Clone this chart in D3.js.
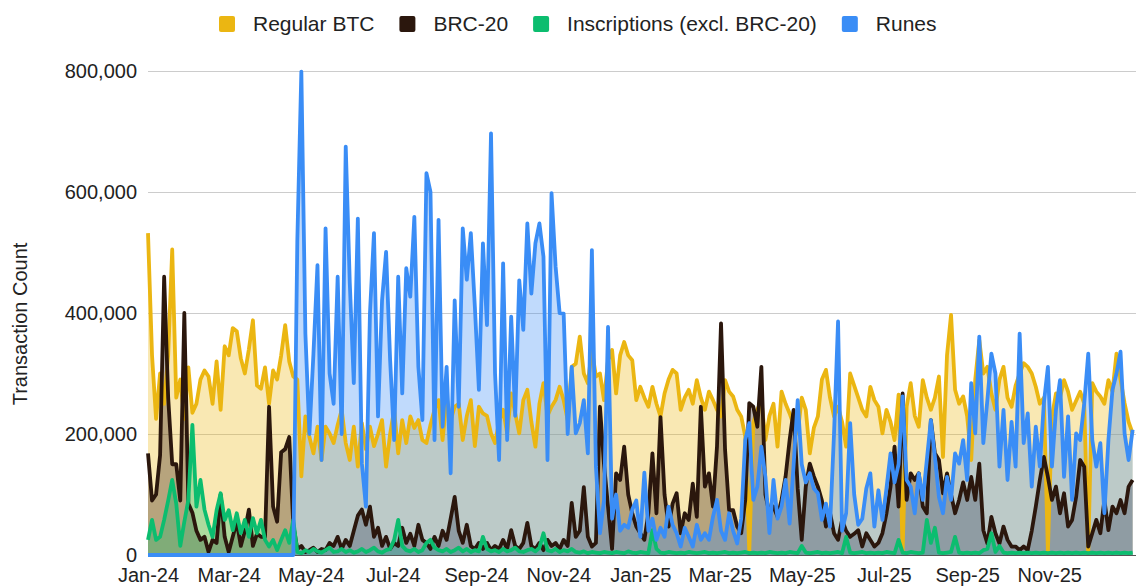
<!DOCTYPE html>
<html lang="en">
<head>
<meta charset="UTF-8">
<script src="https://d3js.org/d3.v7.min.js"></script>
<title>Bitcoin transactions by type</title>
<style>
  body { margin: 0; background: #fff; font-family: "Liberation Sans", Arial, sans-serif; }
  svg text { fill: #222; }
</style>
</head>
<body>
<svg id="chart" width="1136" height="586"></svg>
<script>
// one point every 3 days, starting 1 Jan 2024; values in thousands of transactions
const startDate = new Date(Date.UTC(2024, 0, 1));
const stepDays = 3;

const seriesNames = ["Regular BTC", "BRC-20", "Inscriptions (excl. BRC-20)", "Runes"];
const seriesColors = ["#ebb612", "#2b170d", "#0cbd6f", "#3a8df6"];

const regularBtc = [
  532,330,225,300,250,330,505,260,290,225,310,235,250,290,305,295,250,320,240,345,
  330,375,370,325,300,340,388,280,275,310,250,305,290,330,380,320,295,
  290,130,229,195,168,212,157,212,201,185,215,240,185,157,212,146,218,175,212,180,
  200,223,146,200,240,168,223,185,229,210,223,190,185,215,240,256,190,262,223,245,
  250,190,230,256,180,245,
  234,230,201,185,220,240,201,267,234,201,256,273,220,179,250,284,230,245,256,278,
  256,223,311,316,361,300,284,339,295,300,256,322,339,267,330,352,330,322,256,278,
  260,245,278,250,229,267,290,306,300,240,260,273,250,289,260,240,270,256,240,229,
  289,270,262,240,229,196,5,218,240,256,190,230,250,179,
  270,250,234,215,201,260,240,168,210,229,290,306,260,229,245,220,179,300,280,260,
  240,229,278,256,245,201,240,220,190,265,5,245,284,230,212,289,260,240,260,295,
  162,330,397,273,250,262,229,157,
  290,355,300,311,267,240,290,311,260,245,280,300,317,311,300,278,250,260,5,229,
  267,260,289,270,240,255,270,250,5,284,270,262,250,289,270,333,290,251,220,201
];

const brc20 = [
  168,90,100,165,460,260,150,150,90,400,85,70,40,25,30,5,25,20,100,30,
  5,30,55,15,40,75,15,35,30,30,245,80,55,170,175,195,50,
  10,15,5,8,12,5,10,8,20,15,30,10,25,15,40,65,75,50,80,30,
  45,15,30,10,20,15,45,20,35,15,50,25,20,10,30,15,40,25,60,96,
  40,20,50,15,10,20,
  10,20,8,15,10,25,10,41,15,10,20,53,15,10,20,8,25,15,20,10,
  25,15,86,30,
  40,112,30,14,20,245,150,80,10,135,124,179,100,69,47,36,25,69,168,69,
  228,100,47,85,102,36,69,58,118,63,245,113,135,80,179,383,174,74,74,47,
  36,91,251,245,212,311,100,69,80,63,
  91,130,190,240,110,25,113,151,130,113,90,47,70,36,25,58,40,30,35,41,
  14,36,25,14,20,36,69,113,179,80,267,91,135,124,135,80,69,223,168,157,
  102,135,100,69,91,120,91,129,
  91,151,41,19,63,36,19,47,25,14,14,8,14,8,40,80,124,162,129,91,
  113,69,102,47,58,96,157,146,14,36,58,36,91,41,80,69,91,69,113,124
];

const inscriptions = [
  25,58,25,30,58,90,124,85,15,55,91,215,80,124,75,50,30,74,102,58,
  74,41,69,36,58,30,61,36,58,25,14,25,8,25,41,20,58,
  5,3,8,5,10,6,4,8,12,5,6,10,5,8,4,6,10,5,8,12,
  6,4,8,10,25,58,15,8,6,10,5,8,20,25,12,8,6,10,5,8,
  12,6,10,5,8,6,
  30,10,6,8,5,10,6,8,12,6,5,8,10,6,12,36,8,6,10,5,
  8,6,10,5,4,6,3,5,4,3,5,4,3,5,4,3,6,4,3,5,
  4,3,41,10,4,3,5,4,3,4,3,5,4,3,4,5,3,4,3,4,
  5,3,4,3,4,5,3,4,3,4,3,5,4,3,
  4,3,5,4,3,15,4,3,4,5,3,4,3,4,5,3,30,4,3,4,
  5,3,4,3,4,3,5,4,3,25,4,3,5,4,3,4,58,20,45,4,
  3,4,5,30,4,3,4,3,
  4,3,8,10,36,5,15,4,3,4,3,4,3,4,3,4,3,4,3,4,
  3,4,3,4,3,4,3,4,3,4,3,4,3,4,3,4,3,4,3,4
];

const runes = [
  0,0,0,0,0,0,0,0,0,0,0,0,0,0,0,0,0,0,0,0,
  0,0,0,0,0,0,0,0,0,0,0,0,0,0,0,0,0,
  518,799,366,200,333,479,157,540,300,250,460,200,675,450,284,556,151,80,399,532,
  229,421,501,322,190,460,267,474,427,559,311,223,631,600,190,554,212,311,135,421,
  245,540,455,532,410,273,
  515,380,697,300,157,482,190,394,230,454,372,548,432,515,548,493,157,598,477,400,
  399,200,311,201,218,256,168,504,146,36,90,377,60,100,40,50,45,75,90,30,
  136,40,60,25,45,30,80,50,36,14,45,30,14,50,25,36,25,63,91,40,
  25,69,40,19,60,190,218,91,113,179,129,36,124,60,
  80,124,52,150,256,150,120,135,110,102,58,85,47,200,386,40,69,218,100,50,
  60,110,135,47,107,58,110,168,120,150,262,124,113,69,135,91,157,223,162,96,
  69,129,91,168,151,190,124,284,
  201,361,185,256,333,300,146,240,124,220,146,366,185,234,113,212,146,251,311,146,
  240,289,129,229,91,201,190,250,333,190,146,185,69,190,273,300,336,201,157,207
];

const yTicks = [0, 200000, 400000, 600000, 800000];
const xTicks = d3.utcMonth.every(2).range(startDate, new Date(Date.UTC(2025, 11, 1)));

const allSeries = [regularBtc, brc20, inscriptions, runes].map((vals, k) => ({
  name: seriesNames[k],
  color: seriesColors[k],
  points: vals.map((v, i) => ({ date: d3.utcDay.offset(startDate, i * stepDays), value: v * 1000 }))
}));

const svg = d3.select("#chart");
const plot = { left: 148, right: 1136, top: 71, bottom: 555 };

const x = d3.scaleUtc()
  .domain([startDate, new Date(Date.UTC(2026, 0, 4, 12))])
  .range([plot.left, plot.right]);
const y = d3.scaleLinear().domain([0, 800000]).range([plot.bottom, plot.top]);

// gridlines
svg.append("g")
  .selectAll("line")
  .data(yTicks)
  .join("line")
  .attr("x1", plot.left).attr("x2", plot.right)
  .attr("y1", d => y(d)).attr("y2", d => y(d))
  .attr("stroke", d => d === 0 ? "#555" : "#cccccc")
  .attr("stroke-width", 1)
  .attr("shape-rendering", "crispEdges");

// y axis labels
const yAxis = svg.append("g")
  .attr("transform", `translate(${plot.left - 11},0)`)
  .call(d3.axisLeft(y).tickValues(yTicks).tickFormat(d3.format(",")).tickSize(0).tickPadding(0));
yAxis.select(".domain").remove();
yAxis.selectAll("text").attr("font-size", 20).attr("font-family", "Liberation Sans, Arial, sans-serif").attr("fill", "#222");

svg.append("text")
  .attr("transform", "translate(27,324) rotate(-90)")
  .attr("text-anchor", "middle")
  .attr("font-size", 20)
  .text("Transaction Count");

// areas first, then lines on top
const area = d3.area()
  .x(d => x(d.date))
  .y0(y(0))
  .y1(d => y(d.value));
const line = d3.line()
  .x(d => x(d.date))
  .y(d => y(d.value));

svg.append("g")
  .selectAll("path")
  .data(allSeries)
  .join("path")
  .attr("d", d => area(d.points))
  .attr("fill", d => d.color)
  .attr("fill-opacity", 0.32);

svg.append("g")
  .selectAll("path")
  .data(allSeries)
  .join("path")
  .attr("d", d => line(d.points))
  .attr("fill", "none")
  .attr("stroke", d => d.color)
  .attr("stroke-width", 3.8)
  .attr("stroke-linejoin", "round");

// x axis labels
const xAxis = svg.append("g")
  .attr("transform", `translate(0,${plot.bottom + 13})`)
  .call(d3.axisBottom(x)
    .tickValues(xTicks)
    .tickFormat(d3.utcFormat("%b-%y"))
    .tickSize(0).tickPadding(0));
xAxis.select(".domain").remove();
xAxis.selectAll("text").attr("font-size", 20).attr("font-family", "Liberation Sans, Arial, sans-serif").attr("fill", "#222");

// legend
const legend = svg.append("g").attr("transform", "translate(219,24)");
let cursor = 0;
allSeries.forEach(s => {
  const g = legend.append("g").attr("transform", `translate(${cursor},0)`);
  g.append("rect")
    .attr("x", 0).attr("y", -8)
    .attr("width", 16).attr("height", 16)
    .attr("rx", 2)
    .attr("fill", s.color);
  const t = g.append("text")
    .attr("x", 34).attr("dy", "0.35em")
    .attr("font-size", 21)
    .text(s.name);
  cursor += 34 + t.node().getComputedTextLength() + 25;
});
</script>
</body>
</html>
